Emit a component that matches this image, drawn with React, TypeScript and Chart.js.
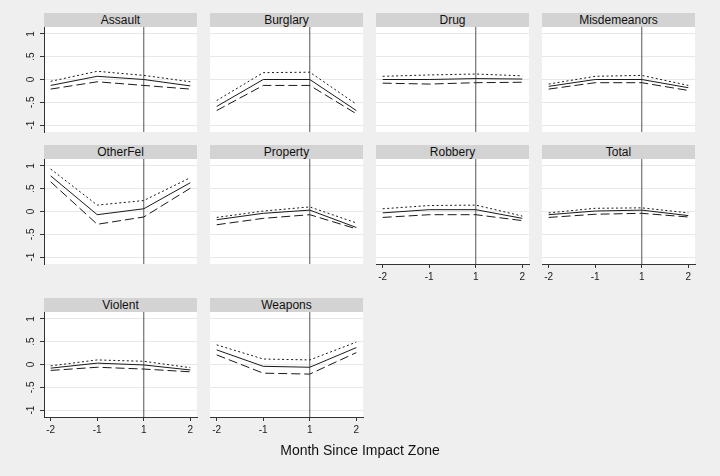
import React, { useEffect, useRef } from "react";
import { Chart, registerables } from "chart.js";

Chart.register(...registerables);

// ---------- data ----------
const panelNames = [
  "Assault", "Burglary", "Drug", "Misdemeanors",
  "OtherFel", "Property", "Robbery", "Total",
  "Violent", "Weapons",
];
const xPositions = [0, 1, 2, 3];
const xTickLabels = ["-2", "-1", "1", "2"];
const yTickValues = [-1, -0.5, 0, 0.5, 1];
const yTickLabels = ["-1", "-.5", "0", ".5", "1"];
const eventPosition = 2; // "1" on the axis
const xAxisTitle = "Month Since Impact Zone";

const pointEstimate = [
  [-0.13, 0.07, 0.0, -0.14],
  [-0.59, 0.0, 0.0, -0.68],
  [0.0, 0.0, 0.02, 0.01],
  [-0.15, 0.0, 0.0, -0.18],
  [0.78, -0.07, 0.06, 0.63],
  [-0.18, -0.04, 0.03, -0.35],
  [-0.03, 0.04, 0.04, -0.15],
  [-0.07, 0.01, 0.03, -0.09],
  [-0.08, 0.03, -0.01, -0.12],
  [0.32, -0.04, -0.06, 0.37],
];
const upperBound = [
  [-0.04, 0.18, 0.09, -0.05],
  [-0.46, 0.15, 0.16, -0.54],
  [0.07, 0.1, 0.12, 0.08],
  [-0.1, 0.07, 0.09, -0.13],
  [0.93, 0.14, 0.24, 0.74],
  [-0.13, 0.01, 0.1, -0.25],
  [0.06, 0.13, 0.14, -0.1],
  [-0.03, 0.07, 0.08, -0.03],
  [-0.03, 0.1, 0.07, -0.07],
  [0.43, 0.12, 0.1, 0.49],
];
const lowerBound = [
  [-0.21, -0.05, -0.13, -0.21],
  [-0.68, -0.13, -0.13, -0.75],
  [-0.08, -0.1, -0.07, -0.06],
  [-0.21, -0.07, -0.07, -0.24],
  [0.65, -0.28, -0.12, 0.51],
  [-0.29, -0.15, -0.07, -0.38],
  [-0.13, -0.07, -0.07, -0.2],
  [-0.13, -0.06, -0.04, -0.12],
  [-0.13, -0.06, -0.1, -0.16],
  [0.21, -0.19, -0.21, 0.26],
];
const xAxisPanels = [6, 7, 8, 9];

// ---------- layout ----------
const FONT = "'Liberation Sans', Arial, Helvetica, sans-serif";
const colLeft = [44, 210, 376, 542];
const rowTop = [27, 159, 312];
const plotW = 153;
const plotH = 105;
const headerH = 14;
const yAxisW = 30;
const xAxisH = 22;
const pad = 10;
const Y_MIN = -1.15;
const Y_MAX = 1.15;
const X_MIN = -0.144;
const X_MAX = 3.144;

const plotBg = {
  id: "plotBg",
  beforeDraw(chart: any) {
    const { ctx, chartArea: a } = chart;
    ctx.save();
    ctx.fillStyle = "#ffffff";
    ctx.fillRect(a.left, a.top, a.right - a.left, a.bottom - a.top);
    ctx.restore();
  },
};

function Panel({ index }: { index: number }) {
  const ref = useRef<HTMLCanvasElement>(null);
  const col = index % 4;
  const row = Math.floor(index / 4);
  const showY = col === 0;
  const showX = xAxisPanels.includes(index);
  const cw = pad + (showY ? yAxisW : 0) + plotW + pad;
  const ch = pad + plotH + (showX ? xAxisH : 0) + pad;
  const left = colLeft[col] - (showY ? yAxisW : 0) - pad;
  const top = rowTop[row] - pad;

  useEffect(() => {
    if (!ref.current) return;
    const mk = (arr: number[]) => xPositions.map((x, k) => ({ x, y: arr[k] }));
    const lineColor = "#1a1a1a";
    const chart = new Chart(ref.current, {
      type: "line",
      data: {
        datasets: [
          {
            label: "upper",
            data: mk(upperBound[index]),
            borderColor: lineColor,
            borderWidth: 1,
            borderDash: [2, 2.5],
            pointRadius: 0,
            tension: 0,
          },
          {
            label: "estimate",
            data: mk(pointEstimate[index]),
            borderColor: lineColor,
            borderWidth: 1,
            pointRadius: 0,
            tension: 0,
          },
          {
            label: "lower",
            data: mk(lowerBound[index]),
            borderColor: lineColor,
            borderWidth: 1,
            borderDash: [9, 4],
            pointRadius: 0,
            tension: 0,
          },
          {
            label: "event",
            data: [
              { x: eventPosition, y: Y_MIN },
              { x: eventPosition, y: Y_MAX },
            ],
            borderColor: "#555555",
            borderWidth: 1,
            pointRadius: 0,
          },
        ],
      },
      options: {
        animation: false,
        responsive: false,
        maintainAspectRatio: false,
        devicePixelRatio: 1,
        layout: { padding: pad },
        plugins: {
          legend: { display: false },
          tooltip: { enabled: false },
          title: { display: false },
        },
        events: [],
        scales: {
          x: {
            type: "linear",
            min: X_MIN,
            max: X_MAX,
            display: showX,
            afterBuildTicks: (s: any) => {
              s.ticks = xPositions.map((v) => ({ value: v }));
            },
            afterFit: (s: any) => {
              s.height = showX ? xAxisH : 0;
            },
            grid: {
              drawOnChartArea: false,
              drawTicks: true,
              tickLength: 4,
              tickColor: "#333333",
              color: "#333333",
            },
            border: { display: true, color: "#333333", width: 1 },
            ticks: {
              autoSkip: false,
              maxRotation: 0,
              minRotation: 0,
              padding: 3,
              color: "#222222",
              font: { family: FONT, size: 10 },
              callback: (v: any) => {
                const k = xPositions.indexOf(Number(v));
                return k >= 0 ? xTickLabels[k] : "";
              },
            },
          },
          y: {
            type: "linear",
            min: Y_MIN,
            max: Y_MAX,
            afterBuildTicks: (s: any) => {
              s.ticks = yTickValues.map((v) => ({ value: v }));
            },
            afterFit: (s: any) => {
              s.width = showY ? yAxisW : 0;
            },
            grid: {
              drawOnChartArea: true,
              drawTicks: showY,
              tickLength: 4,
              color: "#e8e8e8",
              tickColor: "#333333",
              lineWidth: 1,
            },
            border: { display: showY, color: "#333333", width: 1 },
            ticks: {
              display: showY,
              autoSkip: false,
              minRotation: 90,
              maxRotation: 90,
              crossAlign: "center",
              padding: 3,
              color: "#222222",
              font: { family: FONT, size: 10 },
              callback: (v: any) => {
                const k = yTickValues.indexOf(Number(v));
                return k >= 0 ? yTickLabels[k] : "";
              },
            },
          },
        },
      },
      plugins: [plotBg],
    } as any);
    return () => chart.destroy();
  }, [index]);

  return (
    <>
      <canvas
        ref={ref}
        width={cw}
        height={ch}
        style={{ position: "absolute", left, top, width: cw, height: ch }}
      />
      <div
        style={{
          position: "absolute",
          left: colLeft[col],
          top: rowTop[row] - headerH,
          width: plotW,
          height: headerH,
          background: "#d3d3d3",
          color: "#111111",
          font: `12px ${FONT}`,
          lineHeight: `${headerH}px`,
          textAlign: "center",
          whiteSpace: "nowrap",
        }}
      >
        {panelNames[index]}
      </div>
    </>
  );
}

export default function App() {
  return (
    <div
      style={{
        position: "absolute",
        left: 0,
        top: 0,
        width: 720,
        height: 476,
        background: "#efefef",
        overflow: "hidden",
        fontFamily: FONT,
      }}
    >
      {panelNames.map((_, i) => (
        <Panel key={i} index={i} />
      ))}
      <div
        style={{
          position: "absolute",
          left: 0,
          top: 441.5,
          width: 720,
          textAlign: "center",
          font: `14px ${FONT}`,
          lineHeight: "16px",
          color: "#111111",
        }}
      >
        {xAxisTitle}
      </div>
    </div>
  );
}
